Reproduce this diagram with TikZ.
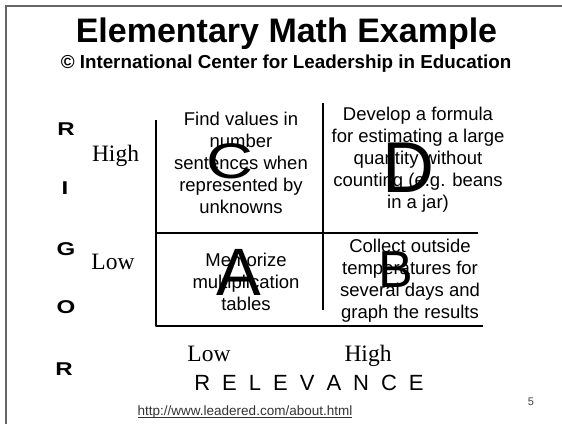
\documentclass[tikz,border=0pt]{standalone}
\usepackage{graphicx}
\usepackage{fontspec}
\setmainfont{Liberation Sans}
\newfontfamily\serifrm{Liberation Serif}
\begin{document}
\begin{tikzpicture}[x=1pt,y=-1pt,
  every node/.style={inner sep=0pt,outer sep=0pt},
  titletext/.style={font=\fontsize{34}{40}\bfseries\selectfont,anchor=base},
  subtext/.style={font=\fontsize{18.8}{22}\bfseries\selectfont,anchor=base},
  celltext/.style={font=\fontsize{18.5}{22}\selectfont,align=center,anchor=north},
  bigletter/.style={anchor=base},
  rigorletter/.style={font=\fontsize{18.5}{20}\bfseries\selectfont,anchor=base},
  levellabel/.style={font=\serifrm\fontsize{23.5}{26}\selectfont,anchor=base},
  axisline/.style={line width=2.8pt,line cap=butt},
  frameline/.style={draw=black!60,line width=1.5pt}]
\useasboundingbox (0,0) rectangle (562,424);
\fill[white] (0,0) rectangle (562,424);
% frame
\draw[frameline] (6,424) -- (6,6) -- (562,6);
% title
\node[titletext] (title) at (286.5,42) {Elementary Math Example};
\node[subtext] (sub) at (286,68) {© International Center for Leadership in Education};
% axes
\coordinate (ytop) at (156,120);
\coordinate (orig) at (156,326);
\coordinate (xend) at (483,326);
\draw[axisline,line join=round] (ytop) -- (orig) -- (xend);
\coordinate (hl) at (156,233);
\coordinate (hr) at (478,233);
\draw[axisline] (hl) -- (hr);
\coordinate (vt) at (323,103);
\coordinate (vb) at (323,310);
\draw[axisline] (vt) -- (vb);
% RIGOR
\node[rigorletter] (r1) at (66,135) {\scalebox{1.3}[1]{R}};
\node[rigorletter] (r2) at (65,194) {\scalebox{1.3}[1]{I}};
\node[rigorletter] (r3) at (66,255) {\scalebox{1.3}[1]{G}};
\node[rigorletter] (r4) at (66,313) {\scalebox{1.3}[1]{O}};
\node[rigorletter] (r5) at (64,375) {\scalebox{1.3}[1]{R}};
% level labels
\node[levellabel] (yhigh) at (115.5,161) {High};
\node[levellabel] (ylow) at (113,269) {Low};
\node[levellabel] (xlow) at (209,361) {Low};
\node[levellabel] (xhigh) at (368,361) {High};
\node[anchor=base,font=\fontsize{22}{26}\selectfont] (rel) at (309,390)
  {R\kern12pt E\kern12pt L\kern12pt E\kern12pt V\kern12pt A\kern12pt N\kern12pt C\kern12pt E};
% cell texts
\node[celltext] (ctext) at (241,109.6) {\strut Find values in\\number\\sentences when\\represented by\\unknowns};
\node[celltext] (dtext) at (418,104.6) {\strut Develop a formula\\for estimating a large\\quantity without\\counting (e.g. beans\\in a jar)};
\node[celltext] (atext) at (246,250.6) {\strut Memorize\\multiplication\\tables};
\node[celltext] (btext) at (410,236.6) {\strut Collect outside\\temperatures for\\several days and\\graph the results};
% big letters
\node[bigletter,font=\fontsize{50}{60}\selectfont] (cl) at (229.5,178) {\scalebox{1.3}[1]{C}};
\node[bigletter,font=\fontsize{72}{80}\selectfont] (dl) at (408.5,192) {D};
\node[bigletter,font=\fontsize{67}{75}\selectfont] (al) at (239,295) {A};
\node[bigletter,font=\fontsize{52}{60}\selectfont] (bl) at (396,287) {B};
% url and page number
\node[anchor=base,font=\fontsize{13.5}{16}\selectfont,text=black!80] (url) at (245,415) {http://www.leadered.com/about.html};
\draw[black!80,line width=0.8pt] ([yshift=-2pt]url.base west) -- ([yshift=-2pt]url.base east);
\node[anchor=base,font=\fontsize{11}{13}\selectfont,text=black!75] (pg) at (531,405) {5};
\end{tikzpicture}
\end{document}
